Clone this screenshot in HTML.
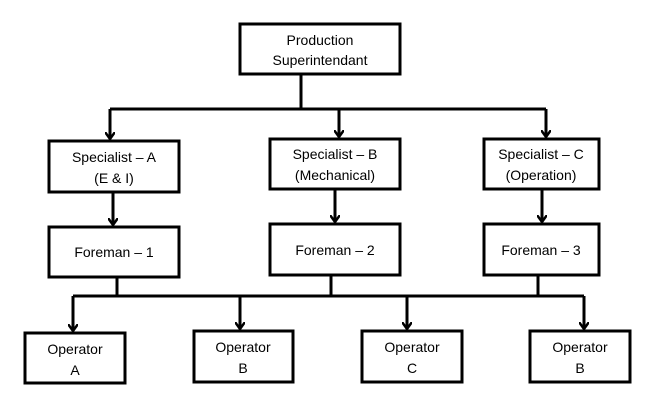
<!DOCTYPE html>
<html><head><style>
body{margin:0;background:#fff;}
svg{display:block;}
text{font-family:"Liberation Sans",sans-serif;font-size:14px;fill:#000;text-anchor:middle;}
</style></head><body>
<svg width="659" height="405" viewBox="0 0 659 405">
<defs><marker id="a" markerWidth="10" markerHeight="10" refX="7" refY="5" orient="auto" markerUnits="userSpaceOnUse">
<path d="M0,0 L7,5 L0,10" fill="none" stroke="#000" stroke-width="2.5"/></marker></defs>
<g fill="none" stroke="#000" stroke-width="3">
<rect x="240" y="24" width="160" height="50"/>
<rect x="49" y="141" width="130" height="51"/>
<rect x="270" y="139" width="130" height="50"/>
<rect x="484" y="139" width="115" height="50"/>
<rect x="49" y="227" width="130" height="50"/>
<rect x="270" y="224" width="130" height="51"/>
<rect x="484" y="224" width="115" height="51"/>
<rect x="25" y="333" width="100" height="50"/>
<rect x="194" y="331" width="99" height="51"/>
<rect x="362" y="331" width="100" height="51"/>
<rect x="530" y="331" width="100" height="51"/>
<path d="M301,74 V109 M110,109 H546"/>
<path d="M117,277 V296 M331,275 V296 M538,275 V296 M73,296 H584"/>
</g>
<g fill="none" stroke="#000" stroke-width="3" marker-end="url(#a)">
<path d="M110,109 V139"/><path d="M339,109 V137"/><path d="M546,109 V137"/>
<path d="M113,192 V225"/><path d="M335,189 V222"/><path d="M542,189 V222"/>
<path d="M73,296 V331"/><path d="M240,296 V329"/><path d="M407,296 V329"/><path d="M584,296 V329"/>
</g>
<text x="320" y="45">Production</text><text x="320" y="65">Superintendant</text>
<text x="114" y="162">Specialist – A</text><text x="114" y="183">(E &amp; I)</text>
<text x="335" y="159">Specialist – B</text><text x="335" y="180">(Mechanical)</text>
<text x="541" y="159">Specialist – C</text><text x="541" y="180">(Operation)</text>
<text x="114" y="257">Foreman – 1</text>
<text x="335" y="255">Foreman – 2</text>
<text x="541" y="255">Foreman – 3</text>
<text x="75" y="354">Operator</text><text x="75" y="375">A</text>
<text x="243" y="352">Operator</text><text x="243" y="373">B</text>
<text x="412" y="352">Operator</text><text x="412" y="373">C</text>
<text x="580" y="352">Operator</text><text x="580" y="373">B</text>
</svg>
</body></html>
